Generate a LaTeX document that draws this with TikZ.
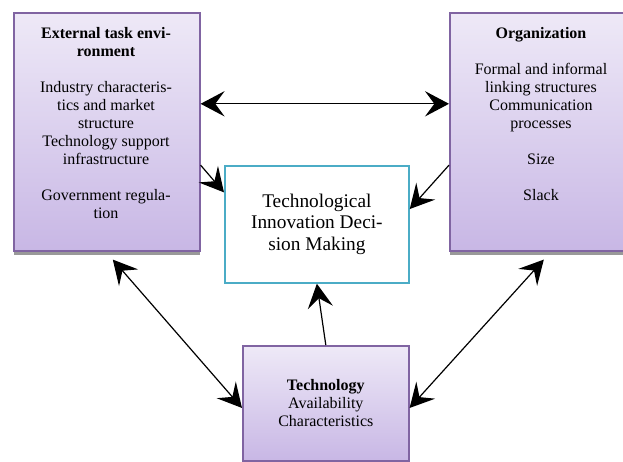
\documentclass[tikz,border=0pt]{standalone}
\usepackage{fontspec}
\setmainfont{LiberationSerif}[Extension=.ttf,UprightFont=*-Regular,BoldFont=*-Bold]
\usepackage{tikz}
\usetikzlibrary{arrows.meta}
\usetikzlibrary{shadows}
\definecolor{boxline}{RGB}{128,100,162}
\definecolor{boxtop}{RGB}{238,233,247}
\definecolor{boxbottom}{RGB}{200,183,229}
\definecolor{tidmline}{RGB}{75,172,198}

\begin{document}
\begin{tikzpicture}[x=0.75pt,y=-0.75pt,>={Stealth[length=18pt,width=19pt,inset=7pt]},
		factor/.style={rectangle,draw=boxline,line width=1.2pt,top color=boxtop,bottom color=boxbottom,anchor=north west,inner sep=0pt,
			drop shadow={shadow xshift=0pt,shadow yshift=-3pt,fill=black!40,opacity=1}},
		factortext/.style={anchor=north,inner sep=0pt,align=center,font=\fontsize{12}{13.5}\selectfont},
		decision/.style={rectangle,draw=tidmline,line width=1.3pt,fill=white,anchor=north west,minimum width=138pt,minimum height=87.75pt,align=center,font=\fontsize{14.5}{16}\selectfont},
		link/.style={line width=0.9pt}]
		\clip (0,0) rectangle (623,461);
		
		\node[factor,minimum width=139.5pt,minimum height=178.5pt] (env) at (13,12) {};
		\node[factortext] (envtext) at (106,27) {\textbf{External task envi-}\\\textbf{ronment}\\[13.5pt]Industry characteris-\\tics and market\\structure\\Technology support\\infrastructure\\[13.5pt]Government regula-\\tion};
		
		\node[factor,minimum width=138pt,minimum height=178.5pt] (org) at (449,12) {};
		\node[factortext] (orgtext) at (541,27) {\textbf{Organization}\\[13.5pt]Formal and informal\\linking structures\\Communication\\processes\\[13.5pt]Size\\[13.5pt]Slack};
		
		\node[decision] (tidm) at (224,165) {Technological\\Innovation Deci-\\sion Making};
		
		\node[factor,minimum width=124.5pt,minimum height=86.25pt,align=center,font=\fontsize{12}{13.5}\selectfont] (tech) at (242,345) {\textbf{Technology}\\Availability\\Characteristics};
		
		\draw[link,<->] ([yshift=21pt]env.east) -- ([yshift=21pt]org.west);
		\draw[link,->] ([yshift=-25pt]env.east) -- ([yshift=24pt]tidm.west);
		\draw[link,->] ([yshift=-25pt]org.west) -- ([yshift=11.5pt]tidm.east);
		\draw[link,->] (tech.north) -- (tidm.south);
		\draw[link,<->] ([xshift=4.5pt,yshift=-6pt]env.south) -- ([yshift=-3.5pt]tech.west);
		\draw[link,<->] ([xshift=1.5pt,yshift=-6pt]org.south) -- ([yshift=-3.5pt]tech.east);
\end{tikzpicture}
\end{document}
